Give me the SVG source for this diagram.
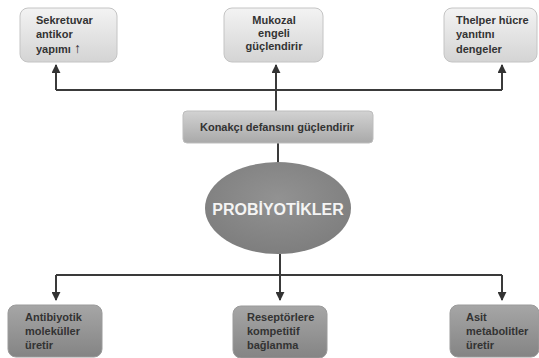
<svg xmlns="http://www.w3.org/2000/svg" width="539" height="358" viewBox="0 0 539 358">
<defs>
<linearGradient id="gTop" x1="0" y1="0" x2="0" y2="1"><stop offset="0" stop-color="#f3f3f3"/><stop offset="1" stop-color="#d4d4d4"/></linearGradient>
<linearGradient id="gMid" x1="0" y1="0" x2="0" y2="1"><stop offset="0" stop-color="#d2d2d2"/><stop offset="1" stop-color="#a9a9a9"/></linearGradient>
<linearGradient id="gBot" x1="0" y1="0" x2="0" y2="1"><stop offset="0" stop-color="#a6a6a6"/><stop offset="1" stop-color="#848484"/></linearGradient>
<radialGradient id="gEll" cx="0.5" cy="0.4" r="0.6"><stop offset="0" stop-color="#929292"/><stop offset="1" stop-color="#7e7e7e"/></radialGradient>
<marker id="ah" viewBox="0 0 10 10" refX="9" refY="5" markerWidth="9" markerHeight="9" markerUnits="userSpaceOnUse" orient="auto"><path d="M0,0 L10,5 L0,10 Z" fill="#333"/></marker>
</defs>
<style>
.lt{fill:url(#gTop);stroke:#c4c4c4;stroke-width:1}
.dk{fill:url(#gBot);stroke:#9a9a9a;stroke-width:1}
.t{font-family:"Liberation Sans",Arial,sans-serif;font-weight:bold;font-size:11px;fill:#333}
.c{stroke:#3a3a3a;stroke-width:2;fill:none}
</style>
<rect width="539" height="358" fill="#ffffff"/>
<g id="connectors">
<path class="c" d="M276,111 V90"/>
<path class="c" d="M56,90 H502"/>
<path class="c" d="M56,90 V65" marker-end="url(#ah)"/>
<path class="c" d="M276,90 V65" marker-end="url(#ah)"/>
<path class="c" d="M502,90 V65" marker-end="url(#ah)"/>
<path class="c" d="M278,143 V162"/>
<path class="c" d="M280,254 V275"/>
<path class="c" d="M56,275 H502"/>
<path class="c" d="M56,275 V300" marker-end="url(#ah)"/>
<path class="c" d="M280,275 V300" marker-end="url(#ah)"/>
<path class="c" d="M502,275 V300" marker-end="url(#ah)"/>
</g>
<g id="n-sekretuvar">
<rect class="lt" x="20" y="8" width="97" height="54" rx="8"/>
<text class="t" x="36" y="24">Sekretuvar</text>
<text class="t" x="36" y="38">antikor</text>
<text class="t" x="36" y="53">yapımı <tspan font-size="14">↑</tspan></text>
</g>
<g id="n-mukozal">
<rect class="lt" x="224" y="8" width="99" height="54" rx="8"/>
<text class="t" x="274" y="24" text-anchor="middle">Mukozal</text>
<text class="t" x="274" y="37" text-anchor="middle">engeli</text>
<text class="t" x="274" y="50" text-anchor="middle">güçlendirir</text>
</g>
<g id="n-thelper">
<rect class="lt" x="444" y="8" width="93" height="54" rx="8"/>
<text class="t" x="456" y="24">Thelper hücre</text>
<text class="t" x="456" y="38">yanıtını</text>
<text class="t" x="456" y="53">dengeler</text>
</g>
<g id="n-konakci">
<rect x="183" y="111" width="190" height="32" rx="4" fill="url(#gMid)" stroke="#bdbdbd"/>
<text class="t" x="277" y="131" text-anchor="middle">Konakçı defansını güçlendirir</text>
</g>
<g id="n-probiyotikler">
<ellipse cx="278" cy="208" rx="73" ry="46" fill="url(#gEll)"/>
<text x="278" y="215" text-anchor="middle" font-family="Liberation Sans,Arial,sans-serif" font-weight="bold" font-size="16" fill="#f4f4f4">PROBİYOTİKLER</text>
</g>
<g id="n-antibiyotik">
<rect class="dk" x="8" y="305" width="94" height="52" rx="8"/>
<text class="t" x="25" y="321">Antibiyotik</text>
<text class="t" x="25" y="335">moleküller</text>
<text class="t" x="25" y="349">üretir</text>
</g>
<g id="n-reseptor">
<rect class="dk" x="233" y="306" width="94" height="52" rx="8"/>
<text class="t" x="247" y="321">Reseptörlere</text>
<text class="t" x="247" y="335">kompetitif</text>
<text class="t" x="247" y="349">bağlanma</text>
</g>
<g id="n-asit">
<rect class="dk" x="450" y="305" width="89" height="52" rx="8"/>
<text class="t" x="466" y="321">Asit</text>
<text class="t" x="466" y="335">metabolitler</text>
<text class="t" x="466" y="349">üretir</text>
</g>
</svg>
